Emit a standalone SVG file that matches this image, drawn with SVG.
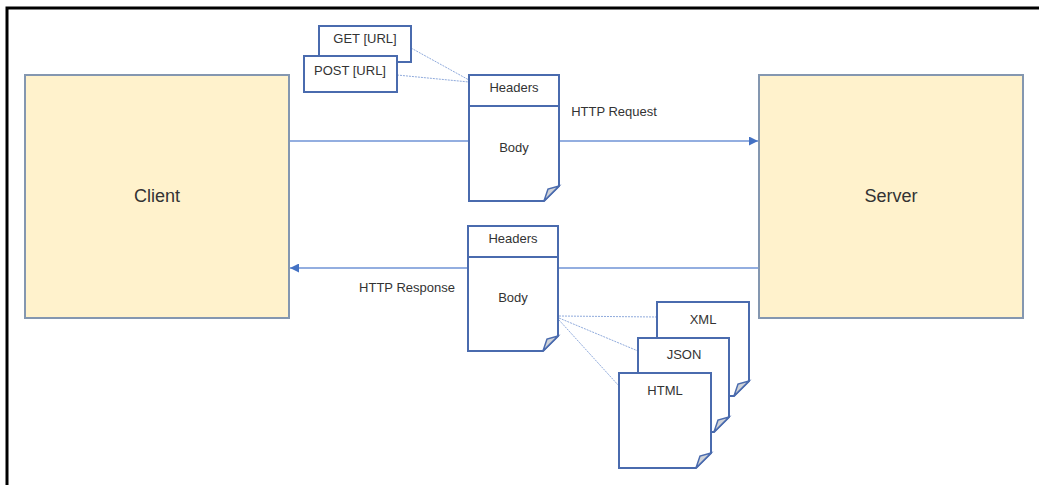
<svg xmlns="http://www.w3.org/2000/svg" width="1039" height="485" viewBox="0 0 1039 485">
<defs>
<style>
.frame{fill:none;stroke:#000;stroke-width:3}
.party{fill:#FFF2CC;stroke:#8497B0;stroke-width:2}
.doc{fill:#fff;stroke:#4A6BAE;stroke-width:2}
.fold{fill:#D0D3D8;stroke:#4A6BAE;stroke-width:1.5}
.box{fill:#fff;stroke:#4A6BAE;stroke-width:2}
.big{font-family:"Liberation Sans",Arial,sans-serif;font-size:18px;fill:#333;text-anchor:middle}
.lbl{font-family:"Liberation Sans",Arial,sans-serif;font-size:13px;fill:#333;text-anchor:middle}
.conn{stroke:#6F93D6;stroke-width:1.3;fill:none}
.thin{stroke:#8FAADC;stroke-width:1;fill:none;stroke-dasharray:2 1}
</style>
<marker id="arr" viewBox="0 0 10 10" refX="10" refY="5" markerWidth="9" markerHeight="9" markerUnits="userSpaceOnUse" orient="auto">
<path d="M0,0 L10,5 L0,10 Z" fill="#4472C4"/>
</marker>
</defs>
<rect width="1039" height="485" fill="#fff"/>
<path class="frame" d="M7,485 V8 H1039"/>
<g id="connectors">
<line class="conn" x1="290" y1="141" x2="758" y2="141" marker-end="url(#arr)"/>
<line class="conn" x1="758" y1="268" x2="290" y2="268" marker-end="url(#arr)"/>
<line class="thin" x1="411" y1="48" x2="469" y2="80"/>
<line class="thin" x1="397" y1="75" x2="469" y2="82"/>
<line class="thin" x1="559" y1="316" x2="657" y2="317"/>
<line class="thin" x1="559" y1="318" x2="638" y2="351"/>
<line class="thin" x1="559" y1="320" x2="619" y2="386"/>
</g>
<g id="client">
<rect class="party" x="25" y="75" width="264" height="243"/>
<text class="big" x="157" y="202">Client</text>
</g>
<g id="server">
<rect class="party" x="759" y="75" width="264" height="243"/>
<text class="big" x="891" y="202">Server</text>
</g>
<g id="get">
<rect class="box" x="319" y="26" width="92" height="36"/>
<text class="lbl" x="365" y="43">GET [URL]</text>
</g>
<g id="post">
<rect class="box" x="304" y="56" width="93" height="36"/>
<text class="lbl" x="350" y="75">POST [URL]</text>
</g>
<g id="request">
<path class="doc" d="M469,75 H559 V186 L544,201 H469 Z"/>
<line class="doc" x1="469" y1="106" x2="559" y2="106"/>
<path class="fold" d="M559,186 L544,201 L548,189 Z"/>
<text class="lbl" x="514" y="92">Headers</text>
<text class="lbl" x="514" y="152">Body</text>
</g>
<text class="lbl" x="614" y="116">HTTP Request</text>
<g id="response">
<path class="doc" d="M468,226 H558 V336 L543,351 H468 Z"/>
<line class="doc" x1="468" y1="257" x2="558" y2="257"/>
<path class="fold" d="M558,336 L543,351 L547,339 Z"/>
<text class="lbl" x="513" y="243">Headers</text>
<text class="lbl" x="513" y="302">Body</text>
</g>
<text class="lbl" x="407" y="292">HTTP Response</text>
<g id="xml">
<path class="doc" d="M657,302 H749 V381 L734,396 H657 Z"/>
<path class="fold" d="M749,381 L734,396 L738,384 Z"/>
<text class="lbl" x="703" y="324">XML</text>
</g>
<g id="json">
<path class="doc" d="M638,338 H729 V417 L714,432 H638 Z"/>
<path class="fold" d="M729,417 L714,432 L718,420 Z"/>
<text class="lbl" x="684" y="359">JSON</text>
</g>
<g id="html">
<path class="doc" d="M619,373 H711 V453 L696,468 H619 Z"/>
<path class="fold" d="M711,453 L696,468 L700,456 Z"/>
<text class="lbl" x="665" y="395">HTML</text>
</g>
</svg>
